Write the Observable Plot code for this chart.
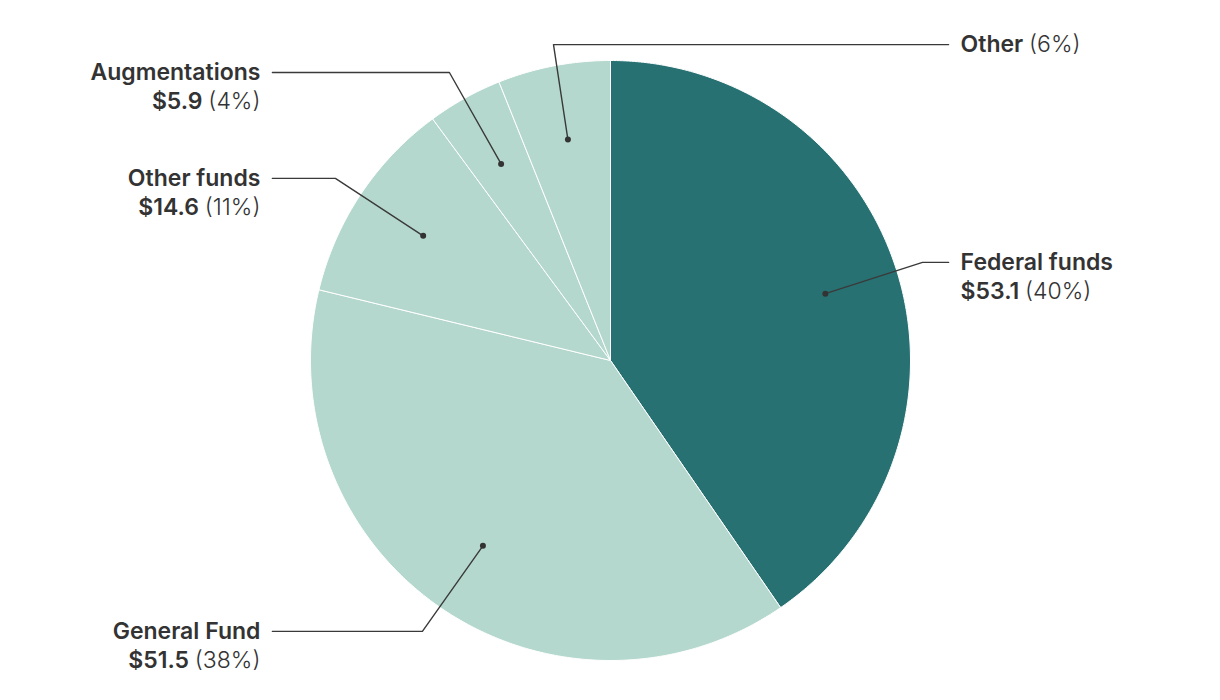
<!DOCTYPE html>
<html>
<head>
<meta charset="utf-8">
<script src="https://cdn.jsdelivr.net/npm/d3@7"></script>
<script src="https://cdn.jsdelivr.net/npm/@observablehq/plot@0.6"></script>
<style>
  html, body { margin: 0; padding: 0; background: #fff; }
  #chart svg { display: block; }
</style>
</head>
<body>
<div id="chart"></div>
<script>
// ---- data ----
const names     = ["Federal funds", "General Fund", "Other funds", "Augmentations", "Other"];
const dollars   = ["53.1", "51.5", "14.6", "5.9", null];
const percents  = [40, 38, 11, 4, 6];

// ---- layout (radius units, pie centre at 0,0) ----
const labelSide  = ["right", "left", "left", "left", "right"];
const labelY     = [0.327, -0.903, 0.607, 0.96, 1.053];
const elbowX     = [1.04, -0.627, -0.917, -0.537, -0.19];
const W = 1220, H = 700, R = 300, CX = 610, CY = 360;
const lineEnd = 1.127, textX = 1.167, lineGap = 29 / R, dotR = 0.75;

const colorRange = ["#287173", "#b4d8cd", "#b4d8cd", "#b4d8cd", "#b4d8cd"];

// ---- derived geometry ----
const arcs = d3.pie().sort(null).value(d => d)(percents);
const pt = (r, a) => [r * Math.sin(a), r * Math.cos(a)];

const slicePts = [];
arcs.forEach((a, i) => {
  slicePts.push({name: names[i], x: 0, y: 0});
  const n = Math.max(2, Math.ceil((a.endAngle - a.startAngle) / 0.01));
  for (let k = 0; k <= n; k++) {
    const ang = a.startAngle + (a.endAngle - a.startAngle) * k / n;
    const [x, y] = pt(1, ang);
    slicePts.push({name: names[i], x, y});
  }
  slicePts.push({name: names[i], x: 0, y: 0});
});

const dots = arcs.map((a, i) => {
  const [x, y] = pt(dotR, (a.startAngle + a.endAngle) / 2);
  return {name: names[i], x, y};
});

const leaders = [];
dots.forEach((d, i) => {
  const side = labelSide[i] === "right" ? 1 : -1;
  leaders.push({name: names[i], x: d.x, y: d.y});
  leaders.push({name: names[i], x: elbowX[i], y: labelY[i]});
  leaders.push({name: names[i], x: side * lineEnd, y: labelY[i]});
});

const labels = [];
names.forEach((n, i) => {
  const side = labelSide[i] === "right" ? 1 : -1;
  const anchor = side > 0 ? "start" : "end";
  if (dollars[i] !== null) {
    labels.push({x: side * textX, y: labelY[i], text: n, anchor});
    labels.push({x: side * textX, y: labelY[i] - lineGap, text: "$" + dollars[i] + "|(" + percents[i] + "%)", anchor});
  } else {
    labels.push({x: side * textX, y: labelY[i], text: n + "|(" + percents[i] + "%)", anchor});
  }
});

const textOpts = (anchor) => ({
  x: "x", y: "y", text: "text",
  textAnchor: anchor, lineAnchor: "middle",
  fontSize: 23, fontWeight: 600, fill: "#333"
});

const plot = Plot.plot({
  width: W, height: H,
  margin: 0,
  style: {fontFamily: "Inter, 'Noto Sans', sans-serif", background: "#fff"},
  x: {domain: [-CX / R, (W - CX) / R], axis: null},
  y: {domain: [-(H - CY) / R, CY / R], axis: null},
  color: {domain: names, range: colorRange},
  marks: [
    Plot.line(slicePts, {x: "x", y: "y", z: "name", fill: "name", stroke: "#fff", strokeWidth: 1, curve: "linear"}),
    Plot.line(leaders, {x: "x", y: "y", z: "name", stroke: "#3a3a3a", strokeWidth: 1.4}),
    Plot.dot(dots, {x: "x", y: "y", r: 3, fill: "#333"}),
    Plot.text(labels.filter(d => d.anchor === "start"), textOpts("start")),
    Plot.text(labels.filter(d => d.anchor === "end"), textOpts("end"))
  ]
});

// split "bold|regular" texts into tspans
plot.querySelectorAll("text").forEach(t => {
  const s = t.textContent;
  if (s.includes("|")) {
    const [a, b] = s.split("|");
    t.textContent = "";
    const ns = "http://www.w3.org/2000/svg";
    const t1 = document.createElementNS(ns, "tspan");
    t1.textContent = a + " ";
    t1.setAttribute("font-weight", "600");
    const t2 = document.createElementNS(ns, "tspan");
    t2.textContent = b;
    t2.setAttribute("font-weight", "300");
    t.appendChild(t1);
    t.appendChild(t2);
  }
});

document.getElementById("chart").appendChild(plot);
</script>
</body>
</html>
